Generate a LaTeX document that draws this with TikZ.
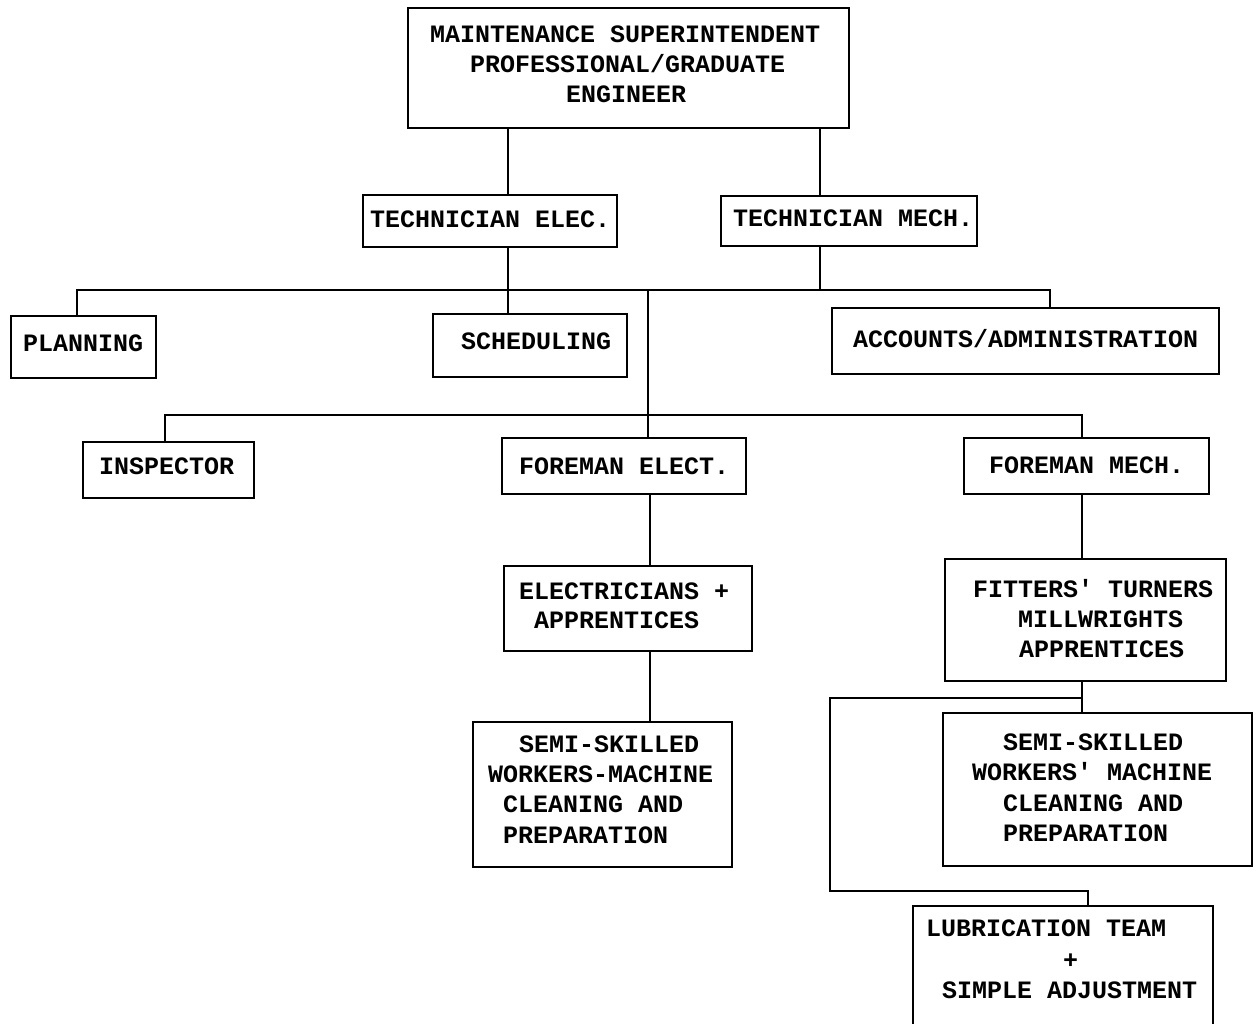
\documentclass[tikz,border=0pt]{standalone}
\usepackage{fontspec}
\newfontfamily\chartfont{Liberation Mono}
\begin{document}
\begin{tikzpicture}[x=1pt,y=-1pt,
  box/.style={draw,line width=1.6pt,inner sep=0pt,anchor=north west},
  lbl/.style={anchor=base west,inner sep=0pt,font=\chartfont\bfseries\fontsize{25}{30}\selectfont},
  conn/.style={line width=1.6pt}]
\clip (0,0) rectangle (1258,1023);
\fill[white] (0,0) rectangle (1258,1023);
% boxes
\node[box,minimum width=441pt,minimum height=120pt] (top) at (407,7) {};
\node[box,minimum width=254pt,minimum height=52pt] (te) at (362,194) {};
\node[box,minimum width=256pt,minimum height=50pt] (tm) at (720,195) {};
\node[box,minimum width=145pt,minimum height=62pt] (plan) at (10,315) {};
\node[box,minimum width=194pt,minimum height=63pt] (sched) at (432,313) {};
\node[box,minimum width=387pt,minimum height=66pt] (acc) at (831,307) {};
\node[box,minimum width=171pt,minimum height=56pt] (insp) at (82,441) {};
\node[box,minimum width=244pt,minimum height=56pt] (fe) at (501,437) {};
\node[box,minimum width=245pt,minimum height=56pt] (fm) at (963,437) {};
\node[box,minimum width=248pt,minimum height=85pt] (elec) at (503,565) {};
\node[box,minimum width=281pt,minimum height=122pt] (fit) at (944,558) {};
\node[box,minimum width=259pt,minimum height=145pt] (semiL) at (472,721) {};
\node[box,minimum width=309pt,minimum height=153pt] (semiR) at (942,712) {};
\node[box,minimum width=300pt,minimum height=140pt] (lub) at (912,905) {};
% texts
\node[lbl] (t1) at (430,42.5) {MAINTENANCE SUPERINTENDENT};
\node[lbl] (t2) at (470,72.5) {PROFESSIONAL/GRADUATE};
\node[lbl] (t3) at (566,102.5) {ENGINEER};
\node[lbl] (t4) at (370,227.5) {TECHNICIAN ELEC.};
\node[lbl] (t5) at (733,226.5) {TECHNICIAN MECH.};
\node[lbl] (t6) at (23,351.5) {PLANNING};
\node[lbl] (t7) at (461,349.5) {SCHEDULING};
\node[lbl] (t8) at (853,347.5) {ACCOUNTS/ADMINISTRATION};
\node[lbl] (t9) at (99,474.5) {INSPECTOR};
\node[lbl] (t10) at (519,474.5) {FOREMAN ELECT.};
\node[lbl] (t11) at (989,473.5) {FOREMAN MECH.};
\node[lbl] (t12) at (519,599.5) {ELECTRICIANS +};
\node[lbl] (t13) at (534,628.5) {APPRENTICES};
\node[lbl] (t14) at (973,597.5) {FITTERS' TURNERS};
\node[lbl] (t15) at (1018,627.5) {MILLWRIGHTS};
\node[lbl] (t16) at (1019,657.5) {APPRENTICES};
\node[lbl] (t17) at (519,752.5) {SEMI-SKILLED};
\node[lbl] (t18) at (488,782.5) {WORKERS-MACHINE};
\node[lbl] (t19) at (503,812.5) {CLEANING AND};
\node[lbl] (t20) at (503,843.5) {PREPARATION};
\node[lbl] (t21) at (1003,750.5) {SEMI-SKILLED};
\node[lbl] (t22) at (972,780.5) {WORKERS' MACHINE};
\node[lbl] (t23) at (1003,811.5) {CLEANING AND};
\node[lbl] (t24) at (1003,841.5) {PREPARATION};
\node[lbl] (t25) at (926,936.5) {LUBRICATION TEAM};
\node[lbl] (t26) at (1063,968.5) {+};
\node[lbl] (t27) at (942,998.5) {SIMPLE ADJUSTMENT};
% connector guide coordinates
\coordinate (xa) at (508,0);
\coordinate (xb) at (820,0);
\coordinate (xc) at (648,0);
\coordinate (xd) at (77,0);
\coordinate (xe) at (1050,0);
\coordinate (xf) at (165,0);
\coordinate (xg) at (1082,0);
\coordinate (xh) at (650,0);
\coordinate (xk) at (830,0);
\coordinate (xl) at (1088,0);
\coordinate (yb1) at (0,290);
\coordinate (yb2) at (0,415);
\coordinate (yb3) at (0,698);
\coordinate (yb4) at (0,891);
% connectors
\draw[conn] (top.south -| xa) -- (te.north -| xa);
\draw[conn] (top.south -| xb) -- (tm.north -| xb);
\draw[conn] (te.south -| xa) -- (sched.north -| xa);
\draw[conn] (tm.south -| xb) -- (xb |- yb1);
\draw[conn] (plan.north -| xd) -- (xd |- yb1) -- (xe |- yb1) -- (acc.north -| xe);
\draw[conn] (xc |- yb1) -- (fe.north -| xc);
\draw[conn] (insp.north -| xf) -- (xf |- yb2) -- (xg |- yb2) -- (fm.north -| xg);
\draw[conn] (fe.south -| xh) -- (elec.north -| xh);
\draw[conn] (elec.south -| xh) -- (semiL.north -| xh);
\draw[conn] (fm.south -| xg) -- (fit.north -| xg);
\draw[conn] (fit.south -| xg) -- (semiR.north -| xg);
\draw[conn] (xg |- yb3) -- (xk |- yb3) -- (xk |- yb4) -- (xl |- yb4) -- (lub.north -| xl);
\end{tikzpicture}
\end{document}
